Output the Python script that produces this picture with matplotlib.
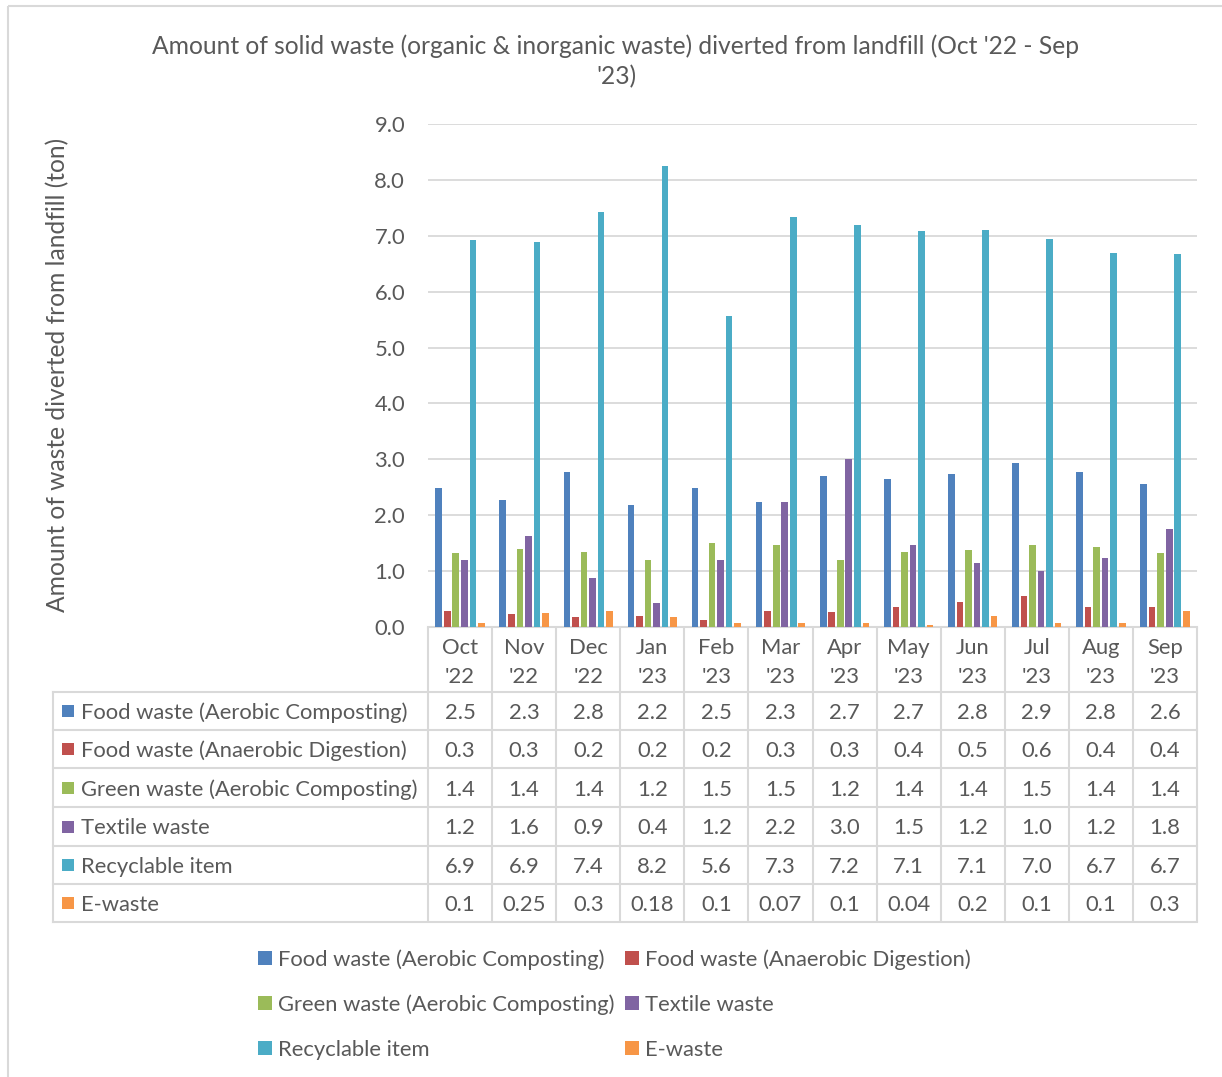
import matplotlib
matplotlib.use("Agg")
import matplotlib.pyplot as plt
import matplotlib.transforms as mtransforms
from matplotlib.patches import Rectangle
import numpy as np

plt.rcParams['font.family'] = ['Lato', 'DejaVu Sans']

# ---------------- data ----------------
months = ["Oct '22", "Nov '22", "Dec '22", "Jan '23", "Feb '23", "Mar '23",
          "Apr '23", "May '23", "Jun '23", "Jul '23", "Aug '23", "Sep '23"]
series_names = ["Food waste (Aerobic Composting)",
                "Food waste (Anaerobic Digestion)",
                "Green waste (Aerobic Composting)",
                "Textile waste",
                "Recyclable item",
                "E-waste"]
food_aerobic = [2.49, 2.28, 2.78, 2.19, 2.49, 2.24, 2.70, 2.65, 2.74, 2.93, 2.78, 2.55]
food_anaerobic = [0.29, 0.23, 0.17, 0.19, 0.13, 0.28, 0.27, 0.36, 0.44, 0.55, 0.35, 0.35]
green_waste = [1.33, 1.40, 1.35, 1.19, 1.51, 1.46, 1.19, 1.35, 1.38, 1.47, 1.43, 1.33]
textile_waste = [1.19, 1.63, 0.88, 0.43, 1.19, 2.24, 3.00, 1.46, 1.14, 1.00, 1.23, 1.75]
recyclable = [6.93, 6.88, 7.43, 8.24, 5.56, 7.33, 7.19, 7.09, 7.10, 6.95, 6.69, 6.67]
e_waste = [0.08, 0.25, 0.28, 0.18, 0.08, 0.07, 0.08, 0.04, 0.19, 0.08, 0.08, 0.28]
# values as printed in the chart's data table
table_labels = [
    ["2.5", "2.3", "2.8", "2.2", "2.5", "2.3", "2.7", "2.7", "2.8", "2.9", "2.8", "2.6"],
    ["0.3", "0.3", "0.2", "0.2", "0.2", "0.3", "0.3", "0.4", "0.5", "0.6", "0.4", "0.4"],
    ["1.4", "1.4", "1.4", "1.2", "1.5", "1.5", "1.2", "1.4", "1.4", "1.5", "1.4", "1.4"],
    ["1.2", "1.6", "0.9", "0.4", "1.2", "2.2", "3.0", "1.5", "1.2", "1.0", "1.2", "1.8"],
    ["6.9", "6.9", "7.4", "8.2", "5.6", "7.3", "7.2", "7.1", "7.1", "7.0", "6.7", "6.7"],
    ["0.1", "0.25", "0.3", "0.18", "0.1", "0.07", "0.1", "0.04", "0.2", "0.1", "0.1", "0.3"],
]
yticks = [0, 1, 2, 3, 4, 5, 6, 7, 8, 9]
title_lines = ["Amount of solid waste (organic & inorganic waste) diverted from landfill (Oct '22 - Sep",
               "'23)"]
ylabel = "Amount of waste diverted from landfill (ton)"

series_values = [food_aerobic, food_anaerobic, green_waste, textile_waste, recyclable, e_waste]
colors = ["#4F81BD", "#C0504D", "#9BBB59", "#8064A2", "#4BACC6", "#F79646"]
TXT = "#595959"
GRID = "#D9D9D9"

W, H = 1222, 1077
fig = plt.figure(figsize=(W / 100, H / 100), dpi=100)
fig.patch.set_facecolor("white")

# overlay in pixel coordinates (y downward)
ov = fig.add_axes([0, 0, 1, 1], zorder=0)
ov.set_xlim(0, W)
ov.set_ylim(H, 0)
ov.axis("off")

renderer = fig.canvas.get_renderer()


def fit(text, target_px):
    t = ov.text(0, 0, text, fontsize=10)
    w = t.get_window_extent(renderer).width
    t.remove()
    return 10 * target_px / w


fs = fit("Food waste (Aerobic Composting)", 328)
fs_title = fit(title_lines[0], 931)
fs_ylab = fit(ylabel, 477)
DY = 2  # small baseline correction for centred text

# plot area
L, R, T, B = 428, 1197, 124, 627
ax = fig.add_axes([L / W, (H - B) / H, (R - L) / W, (B - T) / H], zorder=2)
ax.patch.set_alpha(0)
n = len(months)
x = np.arange(n)
slot = 0.133
for k, (vals, c) in enumerate(zip(series_values, colors)):
    ax.bar(x + (k - 2.5) * slot, vals, width=slot * 0.78, color=c, linewidth=0,
           zorder=3, label=series_names[k])
ax.set_xlim(-0.5, n - 0.5)
ax.set_ylim(0, 9)
ax.set_yticks(yticks)
ax.set_yticklabels([f"{v:.1f}" for v in yticks])
ax.set_xticks([])
ax.tick_params(axis="y", length=0, pad=16.5, labelsize=fs, labelcolor=TXT)
for s in ax.spines.values():
    s.set_visible(False)
ax.yaxis.grid(True, color=GRID, linewidth=1.3)
ax.set_axisbelow(True)

# data table -- x from category scale, y in pixel rows
tr = mtransforms.blended_transform_factory(ax.transData, ov.transData)
row_edges = [692, 730, 768, 807, 846, 884, 922]
tbl_left = 53
lw_t = 1.5
for i in range(n + 1):
    ov.plot([i - 0.5, i - 0.5], [B, row_edges[-1]], color=GRID, lw=lw_t,
            transform=tr, clip_on=False, solid_capstyle="butt")
ov.plot([-0.5, n - 0.5], [B, B], color=GRID, lw=lw_t, transform=tr, clip_on=False)
for ye in row_edges:
    ov.plot([tbl_left, R], [ye, ye], color=GRID, lw=lw_t, clip_on=False)
ov.plot([tbl_left, tbl_left], [row_edges[0], row_edges[-1]], color=GRID, lw=lw_t)

# month headers
for i, m in enumerate(months):
    mon, yr = m.split(" ")
    ov.text(i, 646 + DY, mon, transform=tr, ha="center", va="center", fontsize=fs, color=TXT)
    ov.text(i, 675 + DY, yr, transform=tr, ha="center", va="center", fontsize=fs, color=TXT)

# rows
for r, name in enumerate(series_names):
    yc = (row_edges[r] + row_edges[r + 1]) / 2
    ov.add_patch(Rectangle((62, yc - 6), 12, 12, color=colors[r], lw=0))
    ov.text(81, yc + DY, name, ha="left", va="center", fontsize=fs, color=TXT)
    for i in range(n):
        ov.text(i, yc + DY, table_labels[r][i], transform=tr, ha="center", va="center",
                fontsize=fs, color=TXT)

# legend (row-wise, two columns)
leg_x = [258, 625]
leg_y = [958, 1003, 1048]
for k, name in enumerate(series_names):
    cx = leg_x[k % 2]
    cy = leg_y[k // 2]
    ov.add_patch(Rectangle((cx, cy - 7), 14, 14, color=colors[k], lw=0))
    ov.text(cx + 20, cy + DY, name, ha="left", va="center", fontsize=fs, color=TXT)

# title
ov.text(616, 44 + DY, title_lines[0], ha="center", va="center", fontsize=fs_title, color=TXT)
ov.text(616, 75 + DY, title_lines[1], ha="center", va="center", fontsize=fs_title, color=TXT)

# y label
ov.text(58, 375, ylabel, rotation=90, ha="center", va="center", fontsize=fs_ylab, color=TXT)

# chart border
ov.add_patch(Rectangle((8, 6), 1400, 1300, fill=False, edgecolor=GRID, lw=1.5))

fig.savefig("out.png", dpi=100, facecolor="white")
